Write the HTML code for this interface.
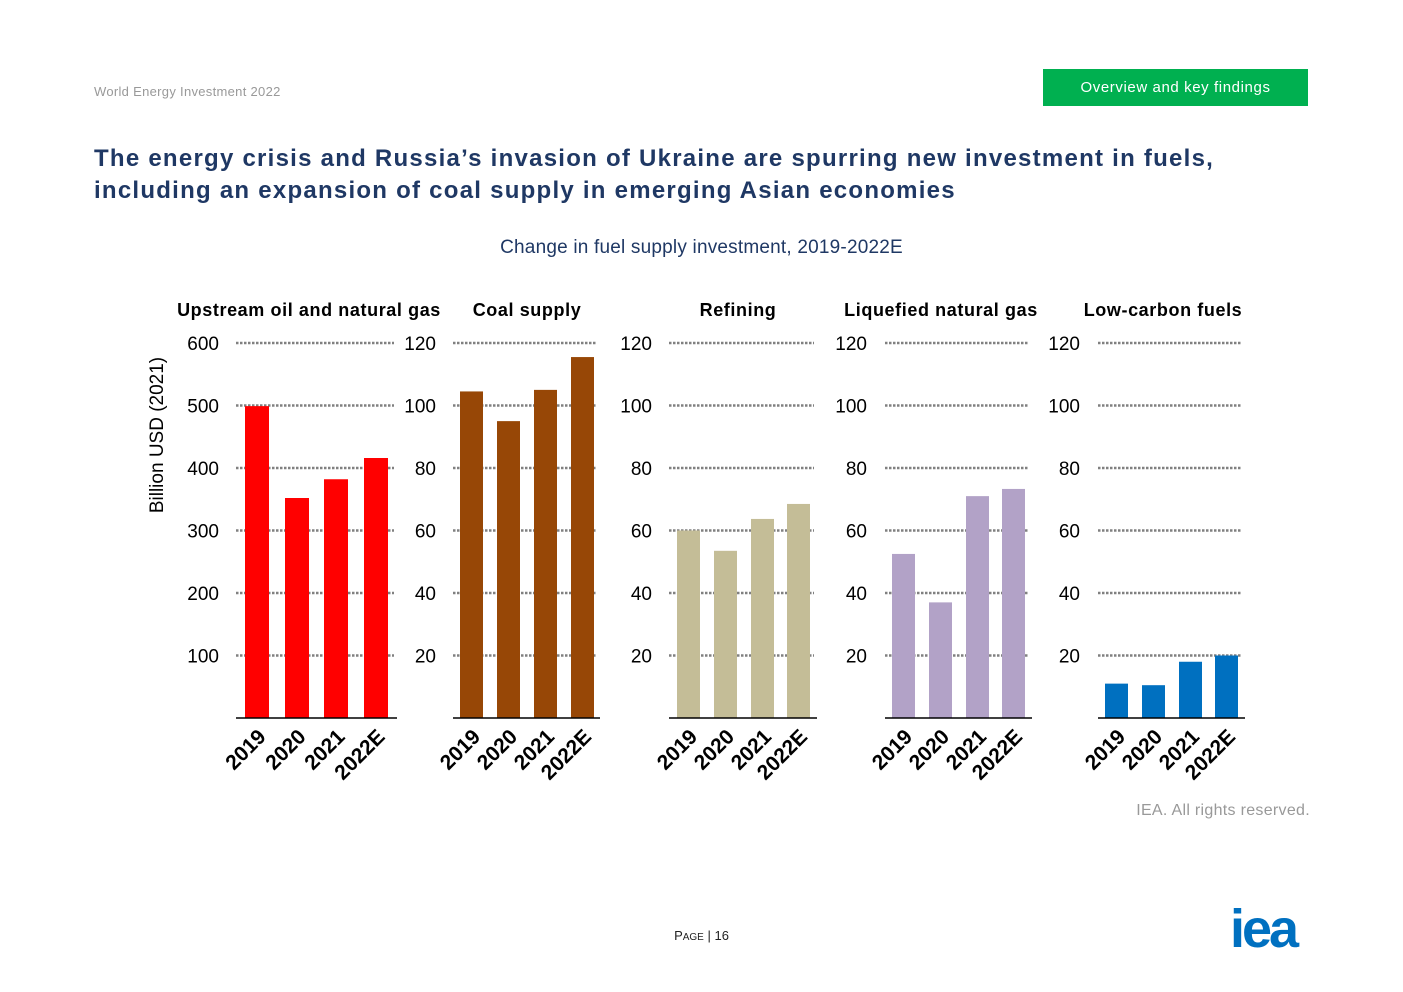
<!DOCTYPE html>
<html><head><meta charset="utf-8"><style>
body{margin:0;width:1403px;height:992px;background:#fff;font-family:"Liberation Sans",sans-serif;position:relative;overflow:hidden}
.abs{position:absolute}
</style></head><body>
<div class="abs" style="left:94px;top:84px;font-size:13px;color:#999;letter-spacing:.3px">World Energy Investment 2022</div>
<div class="abs" style="left:1043px;top:69px;width:265px;height:37px;background:#00b050;color:#fff;font-size:15px;line-height:37px;text-align:center;letter-spacing:.6px">Overview and key findings</div>
<div class="abs" style="left:94px;top:143px;font-size:24px;font-weight:bold;color:#1f3864;line-height:32px;letter-spacing:1.25px">The energy crisis and Russia’s invasion of Ukraine are spurring new investment in fuels,<br>including an expansion of coal supply in emerging Asian economies</div>
<div class="abs" style="left:0;width:1403px;top:237px;text-align:center;font-size:19px;color:#1f3864;letter-spacing:.2px">Change in fuel supply investment, 2019-2022E</div>
<div class="abs" style="right:93px;top:802px;font-size:16px;color:#999;letter-spacing:.3px">IEA. All rights reserved.</div>
<div class="abs" style="left:0;width:1403px;text-align:center;top:928px;font-size:13px;color:#222">P<span style="font-size:10px">AGE</span> | 16</div>
<div class="abs" style="left:1230px;top:898px;font-size:54px;font-weight:bold;color:#0070c0;letter-spacing:-3px;font-family:'Liberation Sans',sans-serif">iea</div>
<svg class="abs" id="chart" style="left:0;top:0" width="1403" height="992"></svg>
<script>
const categories=["2019","2020","2021","2022E"];
const upstream=[499,352,382,416];
const coal=[104.5,95,105,115.5];
const refining=[60,53.5,63.7,68.5];
const lng=[52.5,37,71,73.3];
const lowCarbon=[11,10.5,18,20];
const upTicks=[100,200,300,400,500,600];
const otherTicks=[20,40,60,80,100,120];
const panels=[
 {title:"Upstream oil and natural gas",vals:upstream,ticks:upTicks,max:600,x0:236,x1:397,lab:219,bx:[245,285,324,364],bw:24,color:"#ff0000",tc:309},
 {title:"Coal supply",vals:coal,ticks:otherTicks,max:120,x0:453,x1:600,lab:436,bx:[460,497,534,571],bw:23,color:"#974706",tc:527},
 {title:"Refining",vals:refining,ticks:otherTicks,max:120,x0:669,x1:817,lab:652,bx:[677,714,751,787],bw:23,color:"#c4bd97",tc:738},
 {title:"Liquefied natural gas",vals:lng,ticks:otherTicks,max:120,x0:885,x1:1032,lab:867,bx:[892,929,966,1002],bw:23,color:"#b2a2c7",tc:941},
 {title:"Low-carbon fuels",vals:lowCarbon,ticks:otherTicks,max:120,x0:1098,x1:1245,lab:1080,bx:[1105,1142,1179,1215],bw:23,color:"#0070c0",tc:1163}
];
const svg=document.getElementById('chart');
const NS="http://www.w3.org/2000/svg";
function mk(t,a){const e=document.createElementNS(NS,t);for(const k in a)e.setAttribute(k,a[k]);svg.appendChild(e);return e;}
const Y0=718,YT=343;
panels.forEach((p,pi)=>{
 const y=v=>Y0-(v/p.max)*(Y0-YT);
 const t=mk('text',{x:p.tc,y:316,'text-anchor':'middle','font-size':18,'font-weight':'bold',fill:'#000','letter-spacing':'0.6'});
 t.textContent=p.title;
 
 
 p.ticks.forEach(v=>{
  const g=mk('line',{x1:p.x0,x2:p.x1-3,y1:y(v),y2:y(v),stroke:'#808080','stroke-width':2.5,'stroke-dasharray':'2.5,1.5'});
  
  
  const l=mk('text',{x:p.lab,y:y(v)+7,'text-anchor':'end','font-size':19,fill:'#000'});
  l.textContent=v;
  
  
 });
 p.vals.forEach((v,i)=>{
  const r=mk('rect',{x:p.bx[i],y:y(v),width:p.bw,height:Y0-y(v),fill:p.color});
  
  
  const cx=p.bx[i]+p.bw/2+10;
  const l=mk('text',{x:cx,y:738,'text-anchor':'end','font-size':21,'font-weight':'bold',fill:'#000',transform:`rotate(-45 ${cx} 738)`});
  l.textContent=categories[i];
  
  
 });
 const ax=mk('line',{x1:p.x0,x2:p.x1,y1:Y0,y2:Y0,stroke:'#000','stroke-width':1.5});
 
 
});
const yt=mk('text',{x:163,y:435,'text-anchor':'middle','font-size':19,fill:'#000',transform:'rotate(-90 163 435)'});
yt.textContent="Billion USD (2021)";


</script>
</body></html>
